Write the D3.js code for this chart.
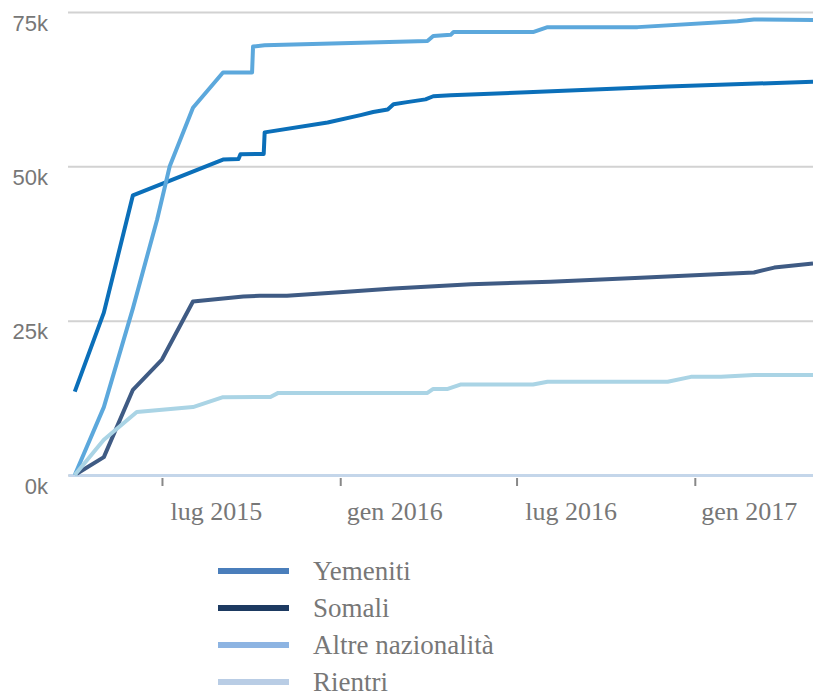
<!DOCTYPE html>
<html>
<head>
<meta charset="utf-8">
<script src="https://cdn.jsdelivr.net/npm/d3@7"></script>
<style>
  body { margin: 0; background: #fff; }
  svg { display: block; }
</style>
</head>
<body>
<svg width="813" height="697"></svg>
<script>
// series names (legend order) and colours
const seriesNames = ['Yemeniti', 'Somali', 'Altre nazionalità', 'Rientri'];
const lineColors = ['#0b6fb9', '#3f5b84', '#5ca8dc', '#aad4e5'];
const legendColors = ['#4a7ebb', '#1d3a61', '#8db4e2', '#b9cde5'];

// cumulative arrivals
const yemeniti = [
  ['2015-04-02', 13500], ['2015-05-02', 26300], ['2015-06-01', 45300],
  ['2015-09-02', 51100], ['2015-09-18', 51200], ['2015-09-20', 51950],
  ['2015-10-14', 52000], ['2015-10-15', 55500], ['2015-12-19', 57100],
  ['2016-01-22', 58300], ['2016-02-04', 58800], ['2016-02-19', 59200],
  ['2016-02-25', 60050], ['2016-03-10', 60400], ['2016-03-29', 60850],
  ['2016-04-06', 61350], ['2016-04-24', 61500], ['2016-07-12', 62000],
  ['2016-12-04', 62950], ['2017-05-03', 63700]
];
const somali = [
  ['2015-04-04', 200], ['2015-05-02', 2900], ['2015-06-01', 13800],
  ['2015-07-01', 18700], ['2015-08-02', 28100], ['2015-09-23', 28900],
  ['2015-10-10', 29050], ['2015-11-07', 29050], ['2016-01-08', 29700],
  ['2016-02-25', 30200], ['2016-05-15', 30900], ['2016-08-05', 31300],
  ['2016-11-06', 31950], ['2017-03-03', 32800], ['2017-03-24', 33600],
  ['2017-05-03', 34250]
];
const altre = [
  ['2015-04-02', 0], ['2015-05-02', 11000], ['2015-06-01', 27000],
  ['2015-06-26', 41400], ['2015-07-09', 50000], ['2015-08-02', 59500],
  ['2015-09-02', 65200], ['2015-10-02', 65200], ['2015-10-03', 69400],
  ['2015-10-15', 69600], ['2016-03-31', 70300], ['2016-04-06', 71100],
  ['2016-04-24', 71300], ['2016-04-27', 71750], ['2016-07-18', 71750],
  ['2016-08-02', 72550], ['2016-11-03', 72550], ['2017-02-14', 73500],
  ['2017-03-03', 73800], ['2017-05-03', 73700]
];
const rientri = [
  ['2015-04-02', 0], ['2015-05-02', 5700], ['2015-06-05', 10200],
  ['2015-08-02', 11000], ['2015-09-02', 12600], ['2015-10-21', 12650],
  ['2015-10-29', 13300], ['2016-03-31', 13300], ['2016-04-06', 13950],
  ['2016-04-21', 13950], ['2016-05-04', 14650], ['2016-07-18', 14650],
  ['2016-08-02', 15100], ['2016-12-04', 15100], ['2016-12-28', 15900],
  ['2017-01-28', 15900], ['2017-03-03', 16200], ['2017-05-03', 16200]
];

const yTicks = [0, 25000, 50000, 75000];
const xTicks = ['2015-07-01', '2016-01-01', '2016-07-01', '2017-01-01'];
const xDomain = ['2015-03-26', '2017-05-03'];

const parse = d3.timeParse('%Y-%m-%d');
const itLocale = d3.timeFormatLocale({
  dateTime: '%A %e %B %Y, %X', date: '%d/%m/%Y', time: '%H:%M:%S',
  periods: ['AM', 'PM'],
  days: ['domenica', 'lunedì', 'martedì', 'mercoledì', 'giovedì', 'venerdì', 'sabato'],
  shortDays: ['dom', 'lun', 'mar', 'mer', 'gio', 'ven', 'sab'],
  months: ['gennaio', 'febbraio', 'marzo', 'aprile', 'maggio', 'giugno', 'luglio',
    'agosto', 'settembre', 'ottobre', 'novembre', 'dicembre'],
  shortMonths: ['gen', 'feb', 'mar', 'apr', 'mag', 'giu', 'lug', 'ago', 'set', 'ott', 'nov', 'dic']
});
const fmt = itLocale.format('%b %Y');

const series = [yemeniti, somali, altre, rientri].map((vals, i) => ({
  name: seriesNames[i],
  color: lineColors[i],
  legend: legendColors[i],
  values: vals.map(([d, v]) => ({ date: parse(d), value: v }))
}));

const svg = d3.select('svg');

const x = d3.scaleTime()
  .domain(xDomain.map(parse))
  .range([68, 813]);

const y = d3.scaleLinear()
  .domain([0, 75000])
  .range([475, 12]);

// gridlines + y labels
const yAxis = svg.append('g')
  .attr('transform', 'translate(68,0)')
  .call(d3.axisLeft(y)
    .tickValues(yTicks)
    .tickSize(-745)
    .tickFormat(d => (d / 1000) + 'k'));
yAxis.select('.domain').remove();
yAxis.selectAll('line')
  .attr('stroke', '#d2d2d2')
  .attr('stroke-width', 2);
yAxis.selectAll('text')
  .attr('x', -20)
  .attr('dy', 18)
  .attr('fill', '#777')
  .style('font-family', '"Liberation Sans", Arial, sans-serif')
  .style('font-size', '22px');

// x axis
const xAxis = svg.append('g')
  .attr('transform', 'translate(0,475)')
  .call(d3.axisBottom(x)
    .tickValues(xTicks.map(parse))
    .tickSize(0)
    .tickFormat(fmt));
xAxis.select('.domain')
  .attr('stroke', '#c4d6ea')
  .attr('stroke-width', 3);
xAxis.selectAll('.tick line')
  .attr('y1', 3)
  .attr('y2', 11)
  .attr('stroke', '#888')
  .attr('stroke-width', 2);
xAxis.selectAll('text')
  .attr('y', 45)
  .attr('dy', 0)
  .attr('dx', 54)
  .attr('fill', '#777')
  .style('font-family', '"Liberation Serif", "Times New Roman", serif')
  .style('font-size', '26px');

// lines
const line = d3.line()
  .x(d => x(d.date))
  .y(d => y(d.value));

svg.append('g')
  .attr('class', 'lines')
  .selectAll('path')
  .data(series)
  .enter()
  .append('path')
  .attr('d', d => line(d.values))
  .attr('fill', 'none')
  .attr('stroke', d => d.color)
  .attr('stroke-width', 4)
  .attr('stroke-linejoin', 'round');

// legend
const legend = svg.append('g')
  .attr('class', 'legend')
  .selectAll('g')
  .data(series)
  .enter()
  .append('g')
  .attr('transform', (d, i) => `translate(218,${571 + i * 37})`);

legend.append('rect')
  .attr('x', 0)
  .attr('y', -3)
  .attr('width', 71)
  .attr('height', 6)
  .attr('fill', d => d.legend);

legend.append('text')
  .attr('x', 95)
  .attr('y', 9)
  .attr('fill', '#777')
  .style('font-family', '"Liberation Serif", "Times New Roman", serif')
  .style('font-size', '27px')
  .text(d => d.name);
</script>
</body>
</html>
